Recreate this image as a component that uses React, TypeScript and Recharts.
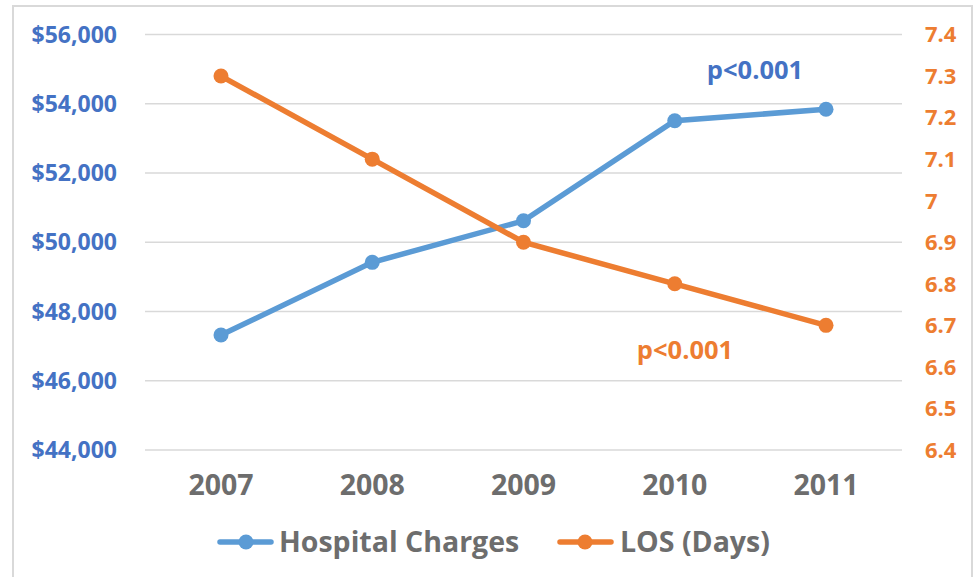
import React from "react";
import { LineChart, Line, XAxis, YAxis, CartesianGrid, Customized } from "recharts";

const years = ["2007", "2008", "2009", "2010", "2011"];
const hospitalCharges = [47320, 49420, 50620, 53510, 53840];
const losDays = [7.3, 7.1, 6.9, 6.8, 6.7];
const leftTicks = [44000, 46000, 48000, 50000, 52000, 54000, 56000];
const rightTicks = [6.4, 6.5, 6.6, 6.7, 6.8, 6.9, 7.0, 7.1, 7.2, 7.3, 7.4];
const seriesNames = ["Hospital Charges", "LOS (Days)"];
const pLabels = ["p<0.001", "p<0.001"];

const data = years.map((y, i) => ({ year: y, charges: hospitalCharges[i], los: losDays[i] }));

const BLUE_LINE = "#5B9BD5";
const BLUE_TEXT = "#4472C4";
const ORANGE = "#ED7D31";
const GRAY = "#6D6D6D";
const FONT = "'Open Sans', Lato, sans-serif";

const Overlay = () => (
  <g>
    <rect x={13} y={6} width={959} height={620} fill="none" stroke="#D9D9D9" strokeWidth={2} />
    <text x={755} y={79} textAnchor="middle" fontFamily={FONT} fontWeight={700} fontSize={25.5} fill={BLUE_TEXT}>
      {pLabels[0]}
    </text>
    <text x={685} y={359} textAnchor="middle" fontFamily={FONT} fontWeight={700} fontSize={25.5} fill={ORANGE}>
      {pLabels[1]}
    </text>
    <line x1={220} y1={542} x2={271} y2={542} stroke={BLUE_LINE} strokeWidth={5.5} strokeLinecap="round" />
    <circle cx={246} cy={542} r={7.5} fill={BLUE_LINE} />
    <text x={279} y={552} fontFamily={FONT} fontWeight={700} fontSize={28.5} fill={GRAY}>
      {seriesNames[0]}
    </text>
    <line x1={560} y1={542} x2={611} y2={542} stroke={ORANGE} strokeWidth={5.5} strokeLinecap="round" />
    <circle cx={585} cy={542} r={7.5} fill={ORANGE} />
    <text x={620} y={552} fontFamily={FONT} fontWeight={700} fontSize={28.5} fill={GRAY}>
      {seriesNames[1]}
    </text>
  </g>
);

export default function App() {
  return (
    <div style={{ position: "absolute", left: 0, top: 0, background: "#fff" }}>
      <LineChart width={974} height={577} data={data} margin={{ top: 34.5, right: 0, bottom: 67, left: 0 }}>
        <CartesianGrid vertical={false} stroke="#D9D9D9" strokeWidth={1.5} yAxisId="left" />
        <XAxis
          dataKey="year"
          height={60}
          padding={{ left: 76, right: 76 }}
          axisLine={false}
          tickLine={false}
          tickSize={0}
          tickMargin={25}
          tick={{ fill: GRAY, fontSize: 28.5, fontWeight: 700, fontFamily: FONT }}
        />
        <YAxis
          yAxisId="left"
          orientation="left"
          width={145}
          domain={[44000, 56000]}
          ticks={leftTicks}
          axisLine={false}
          tickLine={false}
          tickSize={0}
          tickMargin={28}
          tickFormatter={(v: number) => "$" + v.toLocaleString("en-US")}
          tick={{ fill: BLUE_TEXT, fontSize: 23, fontWeight: 700, fontFamily: FONT }}
        />
        <YAxis
          yAxisId="right"
          orientation="right"
          width={72}
          domain={[6.4, 7.4]}
          ticks={rightTicks}
          axisLine={false}
          tickLine={false}
          tickSize={0}
          tickMargin={23}
          tickFormatter={(v: number) => String(+v.toFixed(1))}
          tick={{ fill: ORANGE, fontSize: 22, fontWeight: 700, fontFamily: FONT }}
        />
        <Line
          yAxisId="left"
          dataKey="charges"
          name={seriesNames[0]}
          stroke={BLUE_LINE}
          strokeWidth={5.5}
          dot={{ r: 7.5, fill: BLUE_LINE, stroke: BLUE_LINE, strokeWidth: 0 }}
          activeDot={false}
          isAnimationActive={false}
        />
        <Line
          yAxisId="right"
          dataKey="los"
          name={seriesNames[1]}
          stroke={ORANGE}
          strokeWidth={5.5}
          dot={{ r: 7.5, fill: ORANGE, stroke: ORANGE, strokeWidth: 0 }}
          activeDot={false}
          isAnimationActive={false}
        />
        <Customized component={Overlay} />
      </LineChart>
    </div>
  );
}
